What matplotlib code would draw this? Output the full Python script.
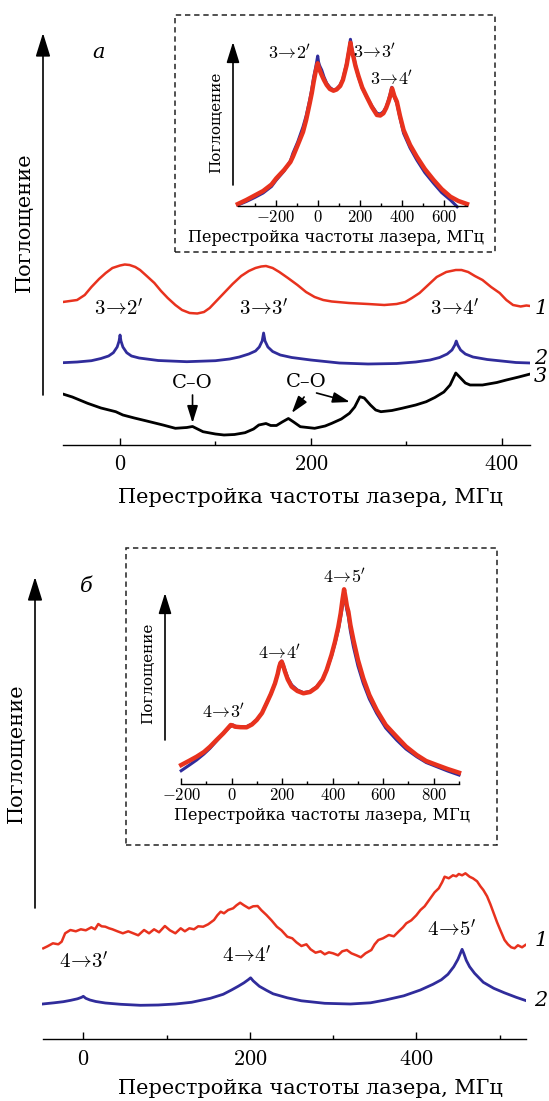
import matplotlib
matplotlib.use("Agg")
import matplotlib.pyplot as plt
from matplotlib.patches import FancyArrowPatch, Rectangle
from matplotlib.ticker import FuncFormatter, MultipleLocator

plt.rcParams["font.family"] = ["DejaVu Serif"]
plt.rcParams["mathtext.fontset"] = "cm"

RED = "#e8321e"
BLUE = "#302c9b"
XLABEL = "Перестройка частоты лазера, МГц"
YLABEL = "Поглощение"

# ---- panel a, main (frequency MHz, absorption a.u.) ----
a_red_f = [-60, -45, -37, -30, -22, -15, -8, 0, 5, 10, 16, 21, 28, 36, 43, 50, 58, 65, 73, 81,
           88, 94, 101, 109, 118, 127, 135, 142, 148, 153, 160, 167, 176, 186, 195, 204, 213,
           222, 240, 260, 277, 290, 299, 306, 314, 323, 332, 342, 352, 358, 365, 372, 380, 389,
           398, 405, 412, 420, 426, 430]
a_red_y = [143, 145, 150, 158, 166, 172, 177, 179.5, 180.5, 180, 178, 175, 169, 162, 154, 147,
           140, 135, 132, 131.5, 133, 137, 144, 152, 161, 169, 174, 177, 178.5, 179, 177, 173,
           167, 160, 153, 148, 145, 143.5, 142, 141, 140, 141, 143, 147, 152, 160, 168, 173,
           175, 175, 173, 169, 165, 158, 152, 145, 140, 138.5, 139.5, 139]

a_blue_f = [-60, -45, -30, -20, -12, -7, -3, -1, 0, 1, 3, 7, 12, 20, 40, 70, 100, 115, 125, 135,
            142, 146, 149, 150.5, 152, 155, 160, 168, 180, 200, 230, 260, 290, 310, 325, 335,
            343, 348, 351, 352.5, 354, 357, 362, 370, 385, 400, 415, 430]
a_blue_y = [82.3, 83, 84.3, 86.5, 89, 92.3, 98, 104, 110, 104, 98, 92.3, 89, 87, 84.5, 83.3,
            84.3, 86, 88, 91, 94, 98, 104, 112, 104, 98, 93.5, 90, 87.5, 85, 82, 81, 81.5, 83,
            85, 87.5, 91, 95, 100, 104, 100, 95, 91, 88, 85.5, 84, 82.5, 82]

a_black_f = [-60, -50, -34, -20, -4.5, 3, 15, 28, 45, 58, 70, 76, 87, 100, 109, 120, 131, 140,
             145.5, 153, 158, 164, 170, 176.5, 182, 189, 204, 215, 222, 232, 240.5, 246, 251.5,
             256, 262.5, 268, 273.5, 285, 295.5, 310, 321, 330, 339.5, 346, 352, 357, 362, 367,
             380, 395, 405, 418, 430]
a_black_y = [51, 48, 41.7, 37, 33.3, 30, 27, 24, 20, 16.7, 17.5, 18.5, 13.3, 11, 10, 10.5, 12.3,
             16, 20, 21.5, 19.5, 19.5, 23, 26.5, 23, 18.3, 16.7, 19, 21.7, 26, 31.7, 38, 48.3,
             47, 40, 35, 33.3, 34.5, 36.7, 40, 43.3, 47.5, 53, 60, 72, 67, 62, 60, 60, 62.5, 65,
             68, 71]

a_labels = [r"$3\!\rightarrow\!2'$", r"$3\!\rightarrow\!3'$", r"$3\!\rightarrow\!4'$"]
a_label_f = [-1, 151, 351]

# ---- panel a, inset ----
ai_blue_f = [-380, -340, -300, -260, -220, -197, -160, -130, -118, -95, -70, -55, -38, -28, -19,
             -10, -4, 0, 4, 8, 12, 19, 30, 43, 58, 75, 90, 107, 120, 130, 138, 146, 151, 156,
             160, 165, 170, 180, 194, 212, 234, 258, 282, 298, 313, 326, 337, 345, 353, 358, 365,
             377, 392, 409, 440, 472, 510, 552, 590, 632, 664]
ai_blue_y = [1, 4.5, 8.5, 13, 19.5, 26, 35, 45, 52.7, 64, 79, 90, 106, 117, 129, 138, 145, 150,
             144, 141, 139, 136, 129, 122.7, 118.5, 116, 117, 121, 127, 136, 143, 152.7, 159,
             166.7, 161, 155, 151, 141, 129, 118, 109, 100, 92.7, 92, 94.3, 99, 106, 112, 118.7,
             114, 109, 102.7, 88, 72.7, 58, 46, 33.5, 22.7, 13.5, 6, -0.7]
ai_red_f = [-380, -340, -300, -260, -220, -197, -160, -130, -118, -95, -70, -55, -38, -28, -19,
            -10, -4, 0, 4, 8, 12, 19, 30, 43, 58, 75, 90, 107, 120, 130, 138, 146, 151, 156,
            160, 165, 170, 180, 194, 212, 234, 258, 282, 298, 313, 326, 337, 346, 354, 358, 365,
            377, 392, 409, 440, 472, 510, 552, 590, 632, 670, 711]
ai_red_y = [2, 6, 10.5, 15, 21.5, 27.7, 36, 44, 49.3, 61, 74, 86, 102.7, 113, 124.3, 134, 139.5,
            142.7, 139, 137, 134.5, 131, 126, 121, 117, 115.3, 116.5, 120, 126, 134.3, 141, 151,
            157, 163.3, 158, 153, 149.3, 140, 130, 118.5, 109, 99, 91, 90.5, 92.7, 98, 104.3,
            110.5, 117.7, 115, 110, 104.3, 90, 76, 61, 49.3, 37, 26, 17, 9.3, 5, 2]
ai_label_f = [-132, 273, 352]
ai_label_y = [153, 154, 127]

# ---- panel б, main ----
b_red_f = [-48, -43, -36.5, -30, -26, -21.8, -15.5, -9, -3, 3, 9.7, 14, 18, 22, 26.5, 31, 35,
           41, 47.5, 54, 60, 66, 73, 79, 85, 91, 98, 104, 110.6, 117, 122, 127.4, 133, 138,
           144, 150, 157, 161, 165, 169, 174, 180, 184, 188.4, 193, 199, 204, 209.4, 214, 220,
           226, 232.5, 238, 245, 251, 256, 262, 268, 273, 279, 285, 290, 295, 300, 306, 311,
           316.6, 322, 328, 333.4, 339, 346, 350, 354.4, 360, 367, 373, 379, 384, 388, 394, 400,
           405, 410, 416, 422, 427, 431, 434, 439, 444, 448, 451, 455, 459, 464, 468, 473, 477,
           480.5, 485, 489, 493, 497, 501, 506, 510, 514, 518, 522, 527, 531]
b_red_y = [91, 93, 96, 95, 97.6, 106, 109.3, 108, 110, 109, 112, 110, 115.3, 113, 112.6, 111,
           110, 108, 106, 108, 106, 104, 109.3, 106, 110, 107, 113.3, 109, 106, 111, 108, 111,
           110, 113, 112.6, 115, 119.3, 124, 127.6, 126, 129.3, 131, 134, 136.6, 134, 131, 133,
           133.3, 129, 124.3, 119, 112.6, 109, 102.6, 101, 97, 93.3, 95, 90, 86.6, 88, 85, 87,
           86, 84, 88, 89.3, 86, 84, 82, 86, 89.3, 95, 99.3, 101, 104.3, 103, 108, 112, 116,
           119, 124, 129.3, 133, 140, 147, 151, 157, 162.6, 161, 164, 163, 165.3, 164, 166,
           162.6, 161, 158, 153, 149.3, 143, 135, 126, 117, 109, 99.3, 95, 92, 91, 94, 92, 94.3]

b_blue_f = [-49, -35, -24, -15, -7, -2, 0, 3, 8, 15, 26.5, 45, 68.6, 90, 110.6, 130, 152.6,
            168, 178, 186, 193, 198, 201, 204, 211.5, 220, 228, 245, 262, 290, 320.8, 345,
            362.8, 385, 404.9, 420, 430, 438, 445, 450, 453, 455, 457, 460, 464, 470, 480.5,
            493, 505.8, 520, 532]
b_blue_y = [35.3, 36.5, 37.6, 39, 40.5, 42, 43, 41, 39.3, 37.8, 36.3, 35, 34, 34.3, 35.3, 37,
            41, 45, 49.3, 53, 56.5, 59.5, 61.5, 58.5, 53, 49, 45.5, 41.5, 38.5, 36, 35.3, 36.5,
            39.3, 43.5, 49.3, 55, 59.5, 65, 72.6, 80, 86, 90, 86, 79, 72.6, 66, 57, 51, 46.5,
            42, 38.6]

b_labels = [r"$4\!\rightarrow\!3'$", r"$4\!\rightarrow\!4'$", r"$4\!\rightarrow\!5'$"]
b_label_f = [1, 197, 443]
b_label_y = [77.6, 83.3, 109.3]

# ---- panel б, inset ----
bi_blue_f = [-200, -170, -139, -110, -86, -60, -33, -18, -7, 0, 4, 10, 20, 40, 59, 80, 99, 120,
             138, 155, 171.5, 182, 188, 193, 198, 203, 211, 222, 237.5, 260, 284, 310, 336.5,
             360, 376, 395, 409, 422, 431.5, 440, 446, 451, 456, 462, 470, 482, 500, 521, 545,
             574, 610, 653, 690, 732.5, 770, 812, 855, 900]
bi_blue_y = [13.3, 18.5, 24, 30, 35.7, 43, 50.7, 54.5, 57.3, 58.5, 59, 58.3, 57.3, 56.8, 57.3,
             60, 64, 71, 80.7, 90, 100.7, 110, 117, 121.5, 123, 120, 114, 106, 99, 94, 91.3,
             92.5, 97.3, 105, 114, 128, 140.7, 154, 167.3, 180, 190.7, 182, 174, 167.3, 153,
             137.3, 118, 100.7, 85, 70.7, 56, 44, 35, 27.3, 21.5, 17.3, 13, 9]
bi_red_f = [-200, -170, -139, -110, -86, -60, -33, -18, -4, 4, 13, 35, 59, 80, 99, 120, 138, 155,
            171.5, 182, 188, 193, 198, 203, 211, 222, 237.5, 260, 284, 310, 336.5, 360, 376, 395,
            409, 422, 431.5, 439, 445, 451, 456, 462, 470, 482, 500, 521, 545, 574, 610, 653,
            690, 732.5, 770, 812, 855, 900]
bi_red_y = [19, 23, 27.3, 32, 37.3, 44, 50.7, 55, 59, 58.5, 57.3, 56.8, 56.7, 59.5, 64, 71,
            80.7, 90, 100.7, 110, 117, 121, 122.3, 119, 112.3, 104.5, 97.3, 93, 90.7, 92, 96.7,
            104.5, 114, 129, 142.3, 157, 170.7, 185, 194.7, 186, 178, 172.3, 159, 144, 124,
            105.7, 89, 74, 59, 47.3, 37.5, 29, 23, 19, 15, 11.3]
bi_label_f = [-33, 191, 449]
bi_label_y = [72.3, 131.3, 206.7]

W, H = 549, 1101
fig = plt.figure(figsize=(W / 100, H / 100), dpi=100)


def rect(x0, y0, x1, y1):
    return [x0 / W, 1 - y1 / H, (x1 - x0) / W, (y1 - y0) / H]


def fpt(x, y):
    return (x / W, 1 - y / H)


def tick_fmt(v, pos):
    return f"${v:g}$"


def style_axis(ax, xlim, ylim, major, minor, size, tick_len, pad):
    ax.set_xlim(*xlim)
    ax.set_ylim(*ylim)
    ax.patch.set_alpha(0)
    for s in ["left", "right", "top"]:
        ax.spines[s].set_visible(False)
    ax.spines["bottom"].set_linewidth(1.0)
    ax.set_yticks([])
    ax.xaxis.set_major_locator(MultipleLocator(major))
    ax.xaxis.set_minor_locator(MultipleLocator(minor))
    ax.xaxis.set_major_formatter(FuncFormatter(tick_fmt))
    ax.tick_params(axis="x", which="major", direction="in", length=tick_len, width=1.0,
                   labelsize=size, pad=pad)
    ax.tick_params(axis="x", which="minor", direction="in", length=tick_len * 0.55, width=1.0)


def arrow(x, y0, y1, scale=16):
    fig.add_artist(FancyArrowPatch(fpt(x, y0), fpt(x, y1), transform=fig.transFigure,
                                   arrowstyle="-|>,head_length=0.9,head_width=0.28",
                                   mutation_scale=scale, lw=1.2, color="black",
                                   shrinkA=0, shrinkB=0))


def box(x0, y0, x1, y1):
    fig.add_artist(Rectangle(fpt(x0, y1), (x1 - x0) / W, (y1 - y0) / H,
                             transform=fig.transFigure, fill=False, lw=1.1,
                             ls=(0, (3.5, 2.5)), ec="#222222"))


def label_at(ax, x, y, text, size, rot=0):
    xa, ya = ax.transAxes.inverted().transform(fig.transFigure.transform(fpt(x, y)))
    ax.text(xa, ya, text, transform=ax.transAxes, ha="center", va="center",
            rotation=rot, fontsize=size)


def curve_num(ax, x, y, text):
    ax.text(x, y, text, ha="center", va="center", fontsize=15, style="italic", clip_on=False)


# ================= panel a main =================
ax = fig.add_axes(rect(62.8, 33, 530.2, 445))
style_axis(ax, (-60, 430), (0, 412), 200, 100, 16, 5, 6)
ax.plot(a_red_f, a_red_y, color=RED, lw=1.8)
ax.plot(a_blue_f, a_blue_y, color=BLUE, lw=2.0)
ax.plot(a_black_f, a_black_y, color="black", lw=2.0)
for lab, f in zip(a_labels, a_label_f):
    ax.text(f, 136, lab, ha="center", va="center", fontsize=15)
for lab, y in zip(["1", "2", "3"], [137, 87, 68]):
    curve_num(ax, 441, y, lab)
co_arrow = dict(arrowstyle="-|>,head_length=0.8,head_width=0.25", mutation_scale=13,
                lw=1.2, color="black", shrinkA=0, shrinkB=0)
ax.text(76, 62, "C–O", ha="center", va="center", fontsize=14)
ax.annotate("", xy=(76, 22), xytext=(76, 50), arrowprops=co_arrow)
ax.text(195, 63, "C–O", ha="center", va="center", fontsize=14)
ax.annotate("", xy=(180, 32), xytext=(193, 48), arrowprops=co_arrow)
ax.annotate("", xy=(241, 43), xytext=(206, 52), arrowprops=co_arrow)
label_at(ax, 310, 497, XLABEL, 15)
label_at(ax, 24, 222, YLABEL, 15, rot=90)
arrow(43, 395, 33)
fig.text(*fpt(99, 53), "а", fontsize=15, style="italic", ha="center", va="center")

# ================= panel a inset =================
box(175, 15, 495, 252)
ai = fig.add_axes(rect(238.3, 30, 466.8, 206))
style_axis(ai, (-378, 710), (0, 176), 200, 100, 12, 4, 2)
ai.plot(ai_blue_f, ai_blue_y, color=BLUE, lw=2.2, clip_on=False)
ai.plot(ai_red_f, ai_red_y, color=RED, lw=3.2, clip_on=False)
for lab, f, y in zip(a_labels, ai_label_f, ai_label_y):
    ai.text(f, y, lab, ha="center", va="center", fontsize=13)
label_at(ai, 336, 238, XLABEL, 11.5)
label_at(ai, 216, 122, YLABEL, 11, rot=90)
arrow(233, 185, 42, scale=14)

# ================= panel б main =================
bx = fig.add_axes(rect(42.5, 577, 526.2, 1039.3))
style_axis(bx, (-49, 532), (0, 462.3), 200, 100, 16, 5, 6)
bx.plot(b_red_f, b_red_y, color=RED, lw=1.8)
bx.plot(b_blue_f, b_blue_y, color=BLUE, lw=2.0)
for lab, f, y in zip(b_labels, b_label_f, b_label_y):
    bx.text(f, y, lab, ha="center", va="center", fontsize=15)
for lab, y in zip(["1", "2"], [99, 39]):
    curve_num(bx, 550, y, lab)
label_at(bx, 310, 1089, XLABEL, 15)
label_at(bx, 16, 753, YLABEL, 15, rot=90)
arrow(35, 908, 577)
fig.text(*fpt(86, 587), "б", fontsize=15, style="italic", ha="center", va="center")

# ================= panel б inset =================
box(126, 548, 497, 845)
bi = fig.add_axes(rect(181.2, 570, 459, 784))
style_axis(bi, (-200, 900), (0, 214), 200, 100, 12, 4, 2)
bi.plot(bi_blue_f, bi_blue_y, color=BLUE, lw=2.2, clip_on=False)
bi.plot(bi_red_f, bi_red_y, color=RED, lw=3.2, clip_on=False)
for lab, f, y in zip(b_labels, bi_label_f, bi_label_y):
    bi.text(f, y, lab, ha="center", va="center", fontsize=13)
label_at(bi, 322, 816, XLABEL, 11.5)
label_at(bi, 148, 673, YLABEL, 11, rot=90)
arrow(165, 740, 593, scale=14)

fig.savefig("out.png", dpi=100)
